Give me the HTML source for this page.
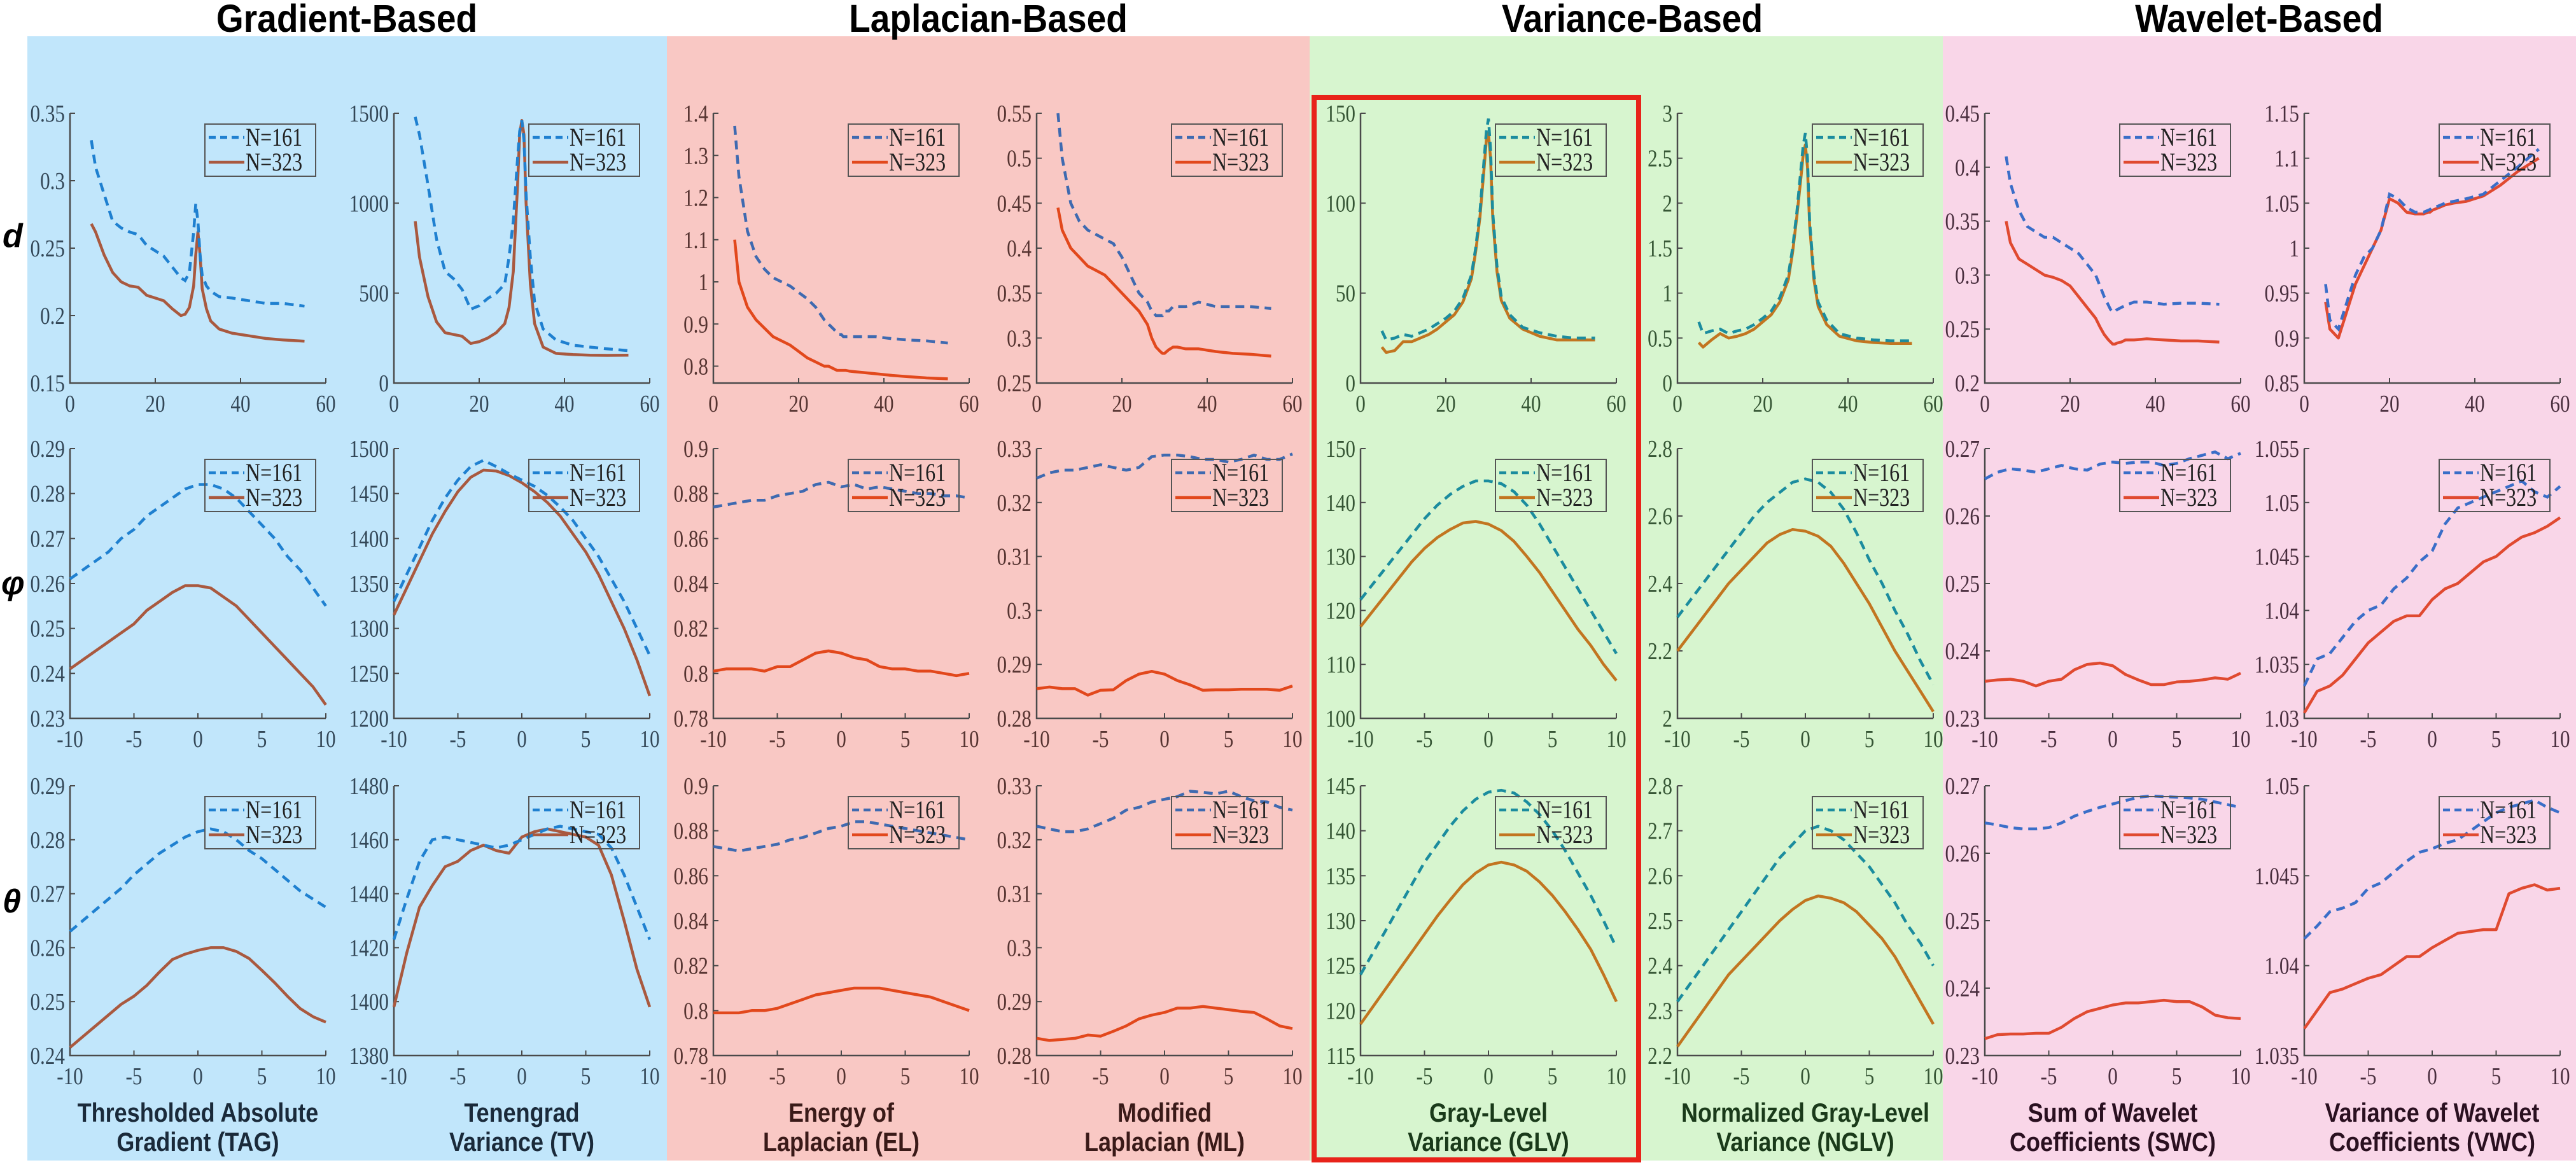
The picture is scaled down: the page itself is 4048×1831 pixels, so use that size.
<!DOCTYPE html>
<html><head><meta charset="utf-8">
<style>
html,body{margin:0;padding:0;background:#fff;}
svg{display:block;}
.tick{font-family:"Liberation Serif",serif;font-size:38px;}
.leg{font-family:"Liberation Serif",serif;font-size:40px;}
.cap{font-family:"Liberation Sans Narrow","Liberation Sans",sans-serif;font-weight:bold;font-size:40px;}
.grp{font-family:"Liberation Sans Narrow","Liberation Sans",sans-serif;font-weight:bold;font-size:58px;}
.row{font-family:"Liberation Sans",sans-serif;font-weight:bold;font-style:italic;font-size:52px;}
</style></head>
<body>
<svg id="fig" width="4048" height="1831" viewBox="0 0 4048 1831" xmlns="http://www.w3.org/2000/svg">
<rect x="43" y="57" width="1005" height="1767" fill="#c1e6fb"/>
<rect x="1048" y="57" width="1010" height="1767" fill="#f9c8c4"/>
<rect x="2058" y="57" width="995" height="1767" fill="#d7f5cf"/>
<rect x="3053" y="57" width="995" height="1767" fill="#f9d6e8"/>
<text class="grp" transform="translate(545,50) scale(0.95,1.05)" text-anchor="middle">Gradient-Based</text>
<text class="grp" transform="translate(1553,50) scale(0.95,1.05)" text-anchor="middle">Laplacian-Based</text>
<text class="grp" transform="translate(2565,50) scale(0.95,1.05)" text-anchor="middle">Variance-Based</text>
<text class="grp" transform="translate(3550,50) scale(0.95,1.05)" text-anchor="middle">Wavelet-Based</text>
<text class="row" x="4" y="388">d</text>
<text class="row" x="2" y="934">φ</text>
<text class="row" x="4" y="1434">θ</text>
<g id="plots"></g>
<rect x="2065" y="153" width="510" height="1670" fill="none" stroke="#e8231a" stroke-width="8"/>
</svg>
<script>
// ---------- x data ----------
const xRow1 = [5,6,8,10,12,14,16,18,20,22,24,26,27,28,29,29.5,30,30.5,31,32,33,35,38,42,46,50,55];
const xRow23 = [-10,-9,-8,-7,-6,-5,-4,-3,-2,-1,0,1,2,3,4,5,6,7,8,9,10];
const xTicksRow1 = [0,20,40,60];
const xTicksRow23 = [-10,-5,0,5,10];

// ---------- row 1 (d) ----------
const tagD161 = [0.33,0.31,0.29,0.27,0.265,0.262,0.26,0.252,0.248,0.244,0.236,0.228,0.226,0.232,0.262,0.283,0.27,0.245,0.23,0.222,0.218,0.214,0.213,0.211,0.209,0.209,0.207];
const tagD323 = [0.268,0.262,0.245,0.232,0.225,0.222,0.221,0.215,0.213,0.211,0.205,0.2,0.201,0.206,0.222,0.245,0.262,0.245,0.22,0.205,0.196,0.19,0.187,0.185,0.183,0.182,0.181];
const tvD161 = [1480,1380,1100,800,620,580,520,410,430,470,500,550,700,900,1250,1400,1460,1350,1050,700,450,300,240,210,200,190,180];
const tvD323 = [900,700,480,340,280,270,260,220,230,250,280,330,420,620,1100,1380,1460,1380,1000,550,330,200,165,158,155,154,155];
const elD161 = [1.37,1.25,1.12,1.06,1.03,1.01,1.0,0.99,0.975,0.96,0.94,0.91,0.9,0.89,0.88,0.875,0.875,0.87,0.87,0.87,0.87,0.87,0.87,0.865,0.862,0.86,0.855];
const elD323 = [1.1,1.0,0.94,0.91,0.89,0.87,0.86,0.85,0.835,0.82,0.81,0.8,0.8,0.795,0.79,0.79,0.79,0.79,0.79,0.788,0.787,0.785,0.782,0.778,0.775,0.772,0.77];
const mlD161 = [0.55,0.5,0.45,0.43,0.42,0.415,0.41,0.405,0.39,0.37,0.35,0.34,0.33,0.325,0.325,0.325,0.33,0.33,0.33,0.335,0.335,0.335,0.34,0.335,0.335,0.335,0.333];
const mlD323 = [0.445,0.42,0.4,0.39,0.38,0.375,0.37,0.36,0.35,0.34,0.33,0.315,0.3,0.29,0.285,0.283,0.283,0.285,0.287,0.29,0.29,0.288,0.288,0.285,0.283,0.282,0.28];
const glvD161 = [29,24,25,27,26,28,30,33,36,40,47,60,75,95,125,140,147,130,95,65,48,38,31,28,26,25,25];
const glvD323 = [20,17,18,23,23,25,27,30,34,38,45,58,73,92,120,135,139,125,92,62,46,36,30,26,24,24,24];
const nglvD161 = [0.68,0.55,0.58,0.6,0.55,0.58,0.6,0.65,0.72,0.8,0.95,1.2,1.5,1.9,2.4,2.65,2.78,2.5,1.8,1.2,0.9,0.7,0.55,0.5,0.48,0.47,0.47];
const nglvD323 = [0.45,0.4,0.48,0.55,0.5,0.52,0.55,0.6,0.68,0.76,0.9,1.15,1.45,1.85,2.3,2.55,2.65,2.4,1.75,1.15,0.85,0.65,0.52,0.47,0.45,0.44,0.44];
const swcD161 = [0.41,0.385,0.36,0.345,0.34,0.335,0.335,0.33,0.325,0.32,0.31,0.3,0.29,0.28,0.272,0.268,0.266,0.266,0.268,0.27,0.272,0.275,0.275,0.273,0.274,0.274,0.273];
const swcD323 = [0.35,0.33,0.315,0.31,0.305,0.3,0.298,0.295,0.29,0.28,0.27,0.26,0.252,0.245,0.24,0.238,0.236,0.236,0.237,0.238,0.24,0.24,0.241,0.24,0.239,0.239,0.238];
const vwcD161 = [0.96,0.92,0.91,0.94,0.97,0.99,1.0,1.02,1.06,1.055,1.045,1.04,1.04,1.04,1.042,1.043,1.045,1.045,1.046,1.048,1.05,1.052,1.055,1.06,1.075,1.09,1.11];
const vwcD323 = [0.94,0.91,0.9,0.93,0.96,0.98,1.0,1.02,1.055,1.05,1.04,1.038,1.038,1.038,1.04,1.04,1.042,1.043,1.044,1.046,1.048,1.05,1.052,1.058,1.07,1.085,1.1];

// ---------- row 2 (phi) ----------
const tagP161 = [.261,.263,.265,.267,.27,.272,.275,.277,.279,.281,.282,.282,.281,.279,.276,.273,.27,.266,.263,.259,.255];
const tagP323 = [.241,.243,.245,.247,.249,.251,.254,.256,.258,.2595,.2595,.259,.257,.255,.252,.249,.246,.243,.24,.237,.233];
const tvP161 = [1330,1360,1390,1420,1445,1465,1480,1487,1480,1472,1465,1458,1448,1435,1420,1400,1380,1355,1330,1300,1270];
const tvP323 = [1315,1345,1375,1405,1430,1452,1468,1476,1475,1470,1462,1452,1440,1425,1405,1385,1360,1330,1300,1265,1225];
const elP161 = [.874,.875,.876,.877,.877,.879,.880,.881,.884,.885,.883,.884,.882,.883,.882,.881,.880,.880,.879,.879,.878];
const elP323 = [.801,.802,.802,.802,.801,.803,.803,.806,.809,.810,.809,.807,.806,.803,.802,.802,.801,.801,.800,.799,.8];
const mlP161 = [.3245,.3255,.326,.326,.3265,.327,.3265,.326,.3265,.3285,.3288,.3288,.3285,.328,.328,.3275,.328,.3288,.328,.328,.329];
const mlP323 = [.2855,.2858,.2855,.2855,.2843,.2852,.2853,.287,.2882,.2887,.2882,.287,.2862,.2852,.2853,.2853,.2854,.2854,.2854,.2852,.286];
const glvP161 = [122,125,128,131,134,137,139.5,141.5,143,144,144,143.5,142,139.5,136,132,128,124,120,116,112];
const glvP323 = [117,120,123,126,129,131.5,133.5,135,136.2,136.5,136,134.8,132.8,130,127,123.5,120,116.5,113.5,110,107];
const nglvP161 = [2.3,2.35,2.4,2.45,2.5,2.55,2.6,2.64,2.67,2.7,2.71,2.7,2.67,2.62,2.55,2.47,2.4,2.32,2.25,2.17,2.1];
const nglvP323 = [2.2,2.25,2.3,2.35,2.4,2.44,2.48,2.52,2.545,2.56,2.555,2.54,2.51,2.46,2.4,2.34,2.27,2.2,2.14,2.08,2.02];
const swcP161 = [.2655,.2665,.267,.2668,.2665,.267,.2675,.267,.2668,.2677,.268,.2678,.268,.268,.2675,.2678,.2685,.269,.2695,.2685,.2693];
const swcP323 = [.2355,.2357,.2358,.2355,.2348,.2355,.2358,.2372,.238,.2382,.2378,.2365,.2357,.235,.235,.2354,.2355,.2357,.236,.2358,.2367];
const vwcP161 = [1.033,1.0355,1.036,1.0375,1.039,1.04,1.0405,1.042,1.043,1.0445,1.0455,1.048,1.0495,1.05,1.0505,1.051,1.0515,1.052,1.051,1.0505,1.0515];
const vwcP323 = [1.0305,1.0325,1.033,1.034,1.0355,1.037,1.038,1.039,1.0395,1.0395,1.041,1.042,1.0425,1.0435,1.0445,1.045,1.046,1.0468,1.0472,1.0478,1.0486];

// ---------- row 3 (theta) ----------
const tagT161 = [.263,.265,.267,.269,.271,.2735,.2755,.2775,.279,.2805,.2815,.282,.2815,.28,.278,.2765,.2745,.2725,.2705,.269,.2675];
const tagT323 = [.2415,.2435,.2455,.2475,.2495,.251,.253,.2555,.2578,.2588,.2595,.26,.26,.2593,.258,.2558,.2535,.251,.2487,.2472,.2462];
const tvT161 = [1423,1438,1452,1460,1461,1460,1459,1458,1457,1458,1460,1462,1464,1465,1464,1463,1462,1457,1447,1435,1423];
const tvT323 = [1398,1418,1435,1443,1450,1452,1456,1458,1456,1455,1461,1463,1464,1463,1462,1461,1458,1447,1430,1412,1398];
const elT161 = [.873,.872,.871,.872,.873,.874,.876,.877,.879,.881,.882,.884,.884,.883,.882,.881,.880,.879,.878,.877,.876];
const elT323 = [.799,.799,.799,.8,.8,.801,.803,.805,.807,.808,.809,.81,.81,.81,.809,.808,.807,.806,.804,.802,.8];
const mlT161 = [.3225,.322,.3215,.3215,.322,.323,.324,.3255,.326,.327,.3275,.328,.329,.3288,.3285,.329,.328,.3272,.327,.326,.3255];
const mlT323 = [.2832,.2828,.283,.2832,.2838,.2836,.2845,.2855,.2868,.2875,.288,.2888,.2888,.2891,.2888,.2885,.2882,.288,.2868,.2855,.285];
const glvT161 = [124,126.5,129,131.5,134,136.5,138.5,140.5,142.2,143.5,144.3,144.5,144.2,143.2,141.8,140,137.8,135.3,132.8,130,127];
const glvT323 = [118.5,120.5,122.5,124.5,126.5,128.5,130.5,132.3,134,135.3,136.2,136.5,136.2,135.5,134.3,132.8,131,129,126.8,124,121];
const nglvT161 = [2.32,2.36,2.4,2.44,2.48,2.52,2.56,2.6,2.64,2.67,2.7,2.71,2.7,2.68,2.65,2.62,2.58,2.54,2.49,2.45,2.4];
const nglvT323 = [2.22,2.26,2.3,2.34,2.38,2.41,2.44,2.47,2.5,2.525,2.545,2.555,2.55,2.54,2.52,2.49,2.46,2.42,2.37,2.32,2.27];
const swcT161 = [.2645,.2642,.2638,.2636,.2636,.2638,.2645,.2655,.2662,.2668,.2673,.2678,.2683,.2685,.2684,.2683,.2682,.268,.2676,.2672,.2668];
const swcT323 = [.2325,.2331,.2332,.2332,.2333,.2333,.2342,.2355,.2365,.237,.2375,.2378,.2378,.238,.2382,.238,.238,.2372,.236,.2356,.2355];
const vwcT161 = [1.0415,1.0422,1.043,1.0432,1.0435,1.0443,1.0446,1.0452,1.0458,1.0463,1.0465,1.0468,1.047,1.0475,1.048,1.0485,1.0488,1.049,1.0492,1.0488,1.0485];
const vwcT323 = [1.0365,1.0375,1.0385,1.0387,1.039,1.0393,1.0395,1.04,1.0405,1.0405,1.041,1.0414,1.0418,1.0419,1.042,1.042,1.044,1.0443,1.0445,1.0442,1.0443];

// ---------- y ticks ----------
const yTicksTagD = [0.15,0.2,0.25,0.3,0.35];
const yTicksTvD = [0,500,1000,1500];
const yTicksElD = [0.8,0.9,1,1.1,1.2,1.3,1.4];
const yTicksMlD = [0.25,0.3,0.35,0.4,0.45,0.5,0.55];
const yTicksGlvD = [0,50,100,150];
const yTicksNglvD = [0,0.5,1,1.5,2,2.5,3];
const yTicksSwcD = [0.2,0.25,0.3,0.35,0.4,0.45];
const yTicksVwcD = [0.85,0.9,0.95,1,1.05,1.1,1.15];
const yTicksTagP = [0.23,0.24,0.25,0.26,0.27,0.28,0.29];
const yTicksTvP = [1200,1250,1300,1350,1400,1450,1500];
const yTicksElP = [0.78,0.8,0.82,0.84,0.86,0.88,0.9];
const yTicksMlP = [0.28,0.29,0.3,0.31,0.32,0.33];
const yTicksGlvP = [100,110,120,130,140,150];
const yTicksNglvP = [2,2.2,2.4,2.6,2.8];
const yTicksSwcP = [0.23,0.24,0.25,0.26,0.27];
const yTicksVwcP = [1.03,1.035,1.04,1.045,1.05,1.055];
const yTicksTagT = [0.24,0.25,0.26,0.27,0.28,0.29];
const yTicksTvT = [1380,1400,1420,1440,1460,1480];
const yTicksElT = [0.78,0.8,0.82,0.84,0.86,0.88,0.9];
const yTicksMlT = [0.28,0.29,0.3,0.31,0.32,0.33];
const yTicksGlvT = [115,120,125,130,135,140,145];
const yTicksNglvT = [2.2,2.3,2.4,2.5,2.6,2.7,2.8];
const yTicksSwcT = [0.23,0.24,0.25,0.26,0.27];
const yTicksVwcT = [1.035,1.04,1.045,1.05];

const captions = [["Thresholded Absolute","Gradient (TAG)"],["Tenengrad","Variance (TV)"],["Energy of","Laplacian (EL)"],["Modified","Laplacian (ML)"],["Gray-Level","Variance (GLV)"],["Normalized Gray-Level","Variance (NGLV)"],["Sum of Wavelet","Coefficients (SWC)"],["Variance of Wavelet","Coefficients (VWC)"]];
const keys = ["tag","tv","el","ml","glv","nglv","swc","vwc"];

// layout (not data)
const colLeft = [110,619,1121,1629,2138,2636,3119,3621];
const rowTop = [178,705,1235];
const AW = 402, AH = 424;
const groupStyle = [
  {d:"#1f80d0", s:"#a9593f", t:"#1a2a3a"},
  {d:"#3f6ab0", s:"#e2481c", t:"#3a1a18"},
  {d:"#1b8c9e", s:"#c27520", t:"#1a3a1a"},
  {d:"#3a6ec8", s:"#e04a30", t:"#2a1020"}
];
const panels = [
  [[tagD161,tagD323,yTicksTagD],[tvD161,tvD323,yTicksTvD],[elD161,elD323,[0.76,1.4],yTicksElD],[mlD161,mlD323,yTicksMlD],[glvD161,glvD323,yTicksGlvD],[nglvD161,nglvD323,yTicksNglvD],[swcD161,swcD323,yTicksSwcD],[vwcD161,vwcD323,yTicksVwcD]],
  [[tagP161,tagP323,yTicksTagP],[tvP161,tvP323,yTicksTvP],[elP161,elP323,yTicksElP],[mlP161,mlP323,yTicksMlP],[glvP161,glvP323,yTicksGlvP],[nglvP161,nglvP323,yTicksNglvP],[swcP161,swcP323,yTicksSwcP],[vwcP161,vwcP323,yTicksVwcP]],
  [[tagT161,tagT323,yTicksTagT],[tvT161,tvT323,yTicksTvT],[elT161,elT323,yTicksElT],[mlT161,mlT323,yTicksMlT],[glvT161,glvT323,yTicksGlvT],[nglvT161,nglvT323,yTicksNglvT],[swcT161,swcT323,yTicksSwcT],[vwcT161,vwcT323,yTicksVwcT]]
];
const rowNames = ["d","phi","theta"];

const NS = "http://www.w3.org/2000/svg";
const root = document.getElementById("plots");
function mk(tag, attrs, parent){
  const e = document.createElementNS(NS, tag);
  for (const k in attrs) e.setAttribute(k, attrs[k]);
  parent.appendChild(e);
  return e;
}
function fmt(v){ return String(+v.toFixed(4)); }

for (let r=0;r<3;r++){
  for (let c=0;c<8;c++){
    const p = panels[r][c];
    const s161 = p[0], s323 = p[1];
    let ylim, yt;
    if (p.length===4){ ylim = p[2]; yt = p[3]; } else { yt = p[2]; ylim = [yt[0], yt[yt.length-1]]; }
    const xs = r===0 ? xRow1 : xRow23;
    const xt = r===0 ? xTicksRow1 : xTicksRow23;
    const xlim = [xt[0], xt[xt.length-1]];
    const L = colLeft[c], T = rowTop[r], B = T+AH, R = L+AW;
    const st = groupStyle[Math.floor(c/2)];
    const sx = v => L + (v-xlim[0])/(xlim[1]-xlim[0])*AW;
    const sy = v => B - (v-ylim[0])/(ylim[1]-ylim[0])*AH;
    const g = mk("g", {}, root);
    
    
    const ax = mk("path", {d:`M${L},${T} L${L},${B} L${R},${B}`, fill:"none", stroke:"#4a4a4a", "stroke-width":2.5}, g);
    
    
    yt.forEach(v=>{
      const y = sy(v);
      mk("line",{x1:L,y1:y,x2:L+8,y2:y,stroke:"#4a4a4a","stroke-width":2},g);
      const t = mk("text",{transform:`translate(${L-8},${y+13}) scale(0.82,1)`,"text-anchor":"end",class:"tick",fill:st.t,"fill-opacity":0.85},g);
      
      
      t.textContent = fmt(v);
    });
    xt.forEach(v=>{
      const x = sx(v);
      mk("line",{x1:x,y1:B,x2:x,y2:B-8,stroke:"#4a4a4a","stroke-width":2},g);
      const t = mk("text",{transform:`translate(${x},${B+45}) scale(0.82,1)`,"text-anchor":"middle",class:"tick",fill:st.t,"fill-opacity":0.85},g);
      
      
      t.textContent = fmt(v);
    });
    const pts = arr => arr.map((v,i)=>`${sx(xs[i]).toFixed(1)},${sy(v).toFixed(1)}`).join(" ");
    const l2 = mk("polyline",{points:pts(s323),fill:"none",stroke:st.s,"stroke-width":4.5,"stroke-linejoin":"round"},g);
    
    
    const l1 = mk("polyline",{points:pts(s161),fill:"none",stroke:st.d,"stroke-width":4.5,"stroke-dasharray":"14 9"},g);
    
    
    const lx = R-16-174, ly = T+17;
    const lg = mk("g",{},g);
    
    
    mk("rect",{x:lx,y:ly,width:174,height:82,fill:"none",stroke:"#555","stroke-width":2},lg);
    mk("line",{x1:lx+6,y1:ly+21,x2:lx+62,y2:ly+21,stroke:st.d,"stroke-width":4.5,"stroke-dasharray":"11 7"},lg);
    mk("line",{x1:lx+6,y1:ly+60,x2:lx+62,y2:ly+60,stroke:st.s,"stroke-width":4.5},lg);
    const t1 = mk("text",{transform:`translate(${lx+64},${ly+34}) scale(0.8,1)`,class:"leg",fill:"#222"},lg);
    
    
    t1.textContent = "N=161";
    const t2 = mk("text",{transform:`translate(${lx+64},${ly+73}) scale(0.8,1)`,class:"leg",fill:"#222"},lg);
    
    
    t2.textContent = "N=323";
  }
}
for (let c=0;c<8;c++){
  const cx = colLeft[c]+AW/2;
  const st = groupStyle[Math.floor(c/2)];
  captions[c].forEach((line,i)=>{
    const t = mk("text",{transform:`translate(${cx},${1763+i*46}) scale(0.9,1.05)`,"text-anchor":"middle",class:"cap",fill:st.t},root);
    
    
    t.textContent = line;
  });
}
</script>
</body></html>
